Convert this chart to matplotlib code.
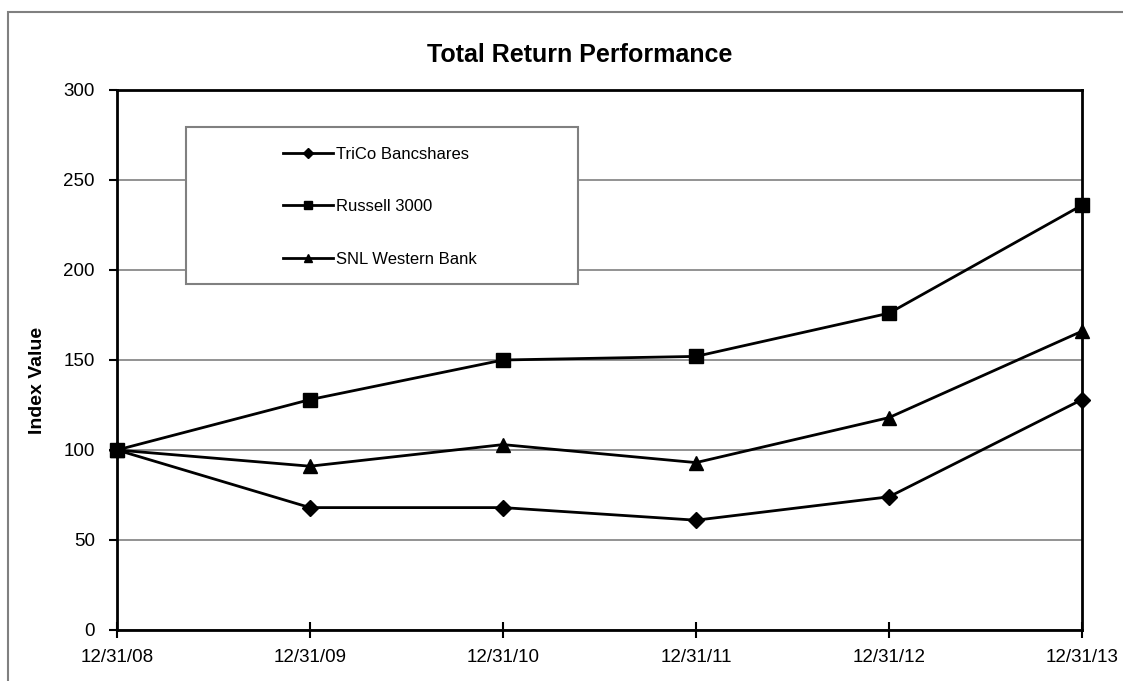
import matplotlib
matplotlib.use("Agg")
import matplotlib.pyplot as plt
from matplotlib.patches import Rectangle

plt.rcParams['font.family'] = ['Liberation Sans', 'DejaVu Sans']

dates = ['12/31/08', '12/31/09', '12/31/10', '12/31/11', '12/31/12', '12/31/13']
trico = [100, 68, 68, 61, 74, 128]
russell = [100, 128, 150, 152, 176, 236]
snl = [100, 91, 103, 93, 118, 166]

fig = plt.figure(figsize=(11.23, 6.81), dpi=100)
W, H = 1123, 681

# axes placed to match the reference plot area
ax = fig.add_axes([117 / W, (H - 630) / H, (1082 - 117) / W, 540 / H])

x = list(range(len(dates)))
ax.plot(x, trico, color='black', lw=2, marker='D', ms=8, label='TriCo Bancshares', clip_on=False, zorder=5)
ax.plot(x, russell, color='black', lw=2, marker='s', ms=10, label='Russell 3000', clip_on=False, zorder=5)
ax.plot(x, snl, color='black', lw=2, marker='^', ms=10, label='SNL Western Bank', clip_on=False, zorder=5)

ax.set_xlim(0, 5)
ax.set_ylim(0, 300)
ax.set_yticks(range(0, 301, 50))
ax.set_xticks(x)
ax.set_xticklabels(dates)
ax.tick_params(axis='y', direction='out', length=6, width=1.5, labelsize=13.5, pad=10)
ax.tick_params(axis='x', direction='inout', length=12, width=1.5, labelsize=13.5, pad=8)
ax.yaxis.grid(True, color='#808080', lw=1.2)
ax.set_axisbelow(True)
for s in ax.spines.values():
    s.set_linewidth(2)
    s.set_color('black')

# legend box
ax.add_patch(Rectangle((0.0715, 0.6407), 0.4062, 0.2908, transform=ax.transAxes,
                       facecolor='white', edgecolor='#808080', lw=1.5, zorder=3))
leg = ax.legend(loc='upper left', bbox_to_anchor=(0.172, 0.895), frameon=False,
                fontsize=12, labelspacing=2.25, handlelength=3, handletextpad=0.2,
                borderpad=0, borderaxespad=0, markerscale=0.6)
leg.set_zorder(6)

fig.text(580 / W, 1 - 55 / H, 'Total Return Performance', ha='center', va='center',
         fontsize=18, fontweight='bold')
fig.text(38 / W, 1 - 380 / H, 'Index Value', ha='center', va='center',
         rotation=90, fontsize=14, fontweight='bold')

# outer border of the page
fig.add_artist(Rectangle((8 / W, -0.1), 1.2, 1.1 - 12 / H, transform=fig.transFigure,
                         facecolor='none', edgecolor='#808080', lw=1.5))

fig.savefig('out.png', dpi=100)
